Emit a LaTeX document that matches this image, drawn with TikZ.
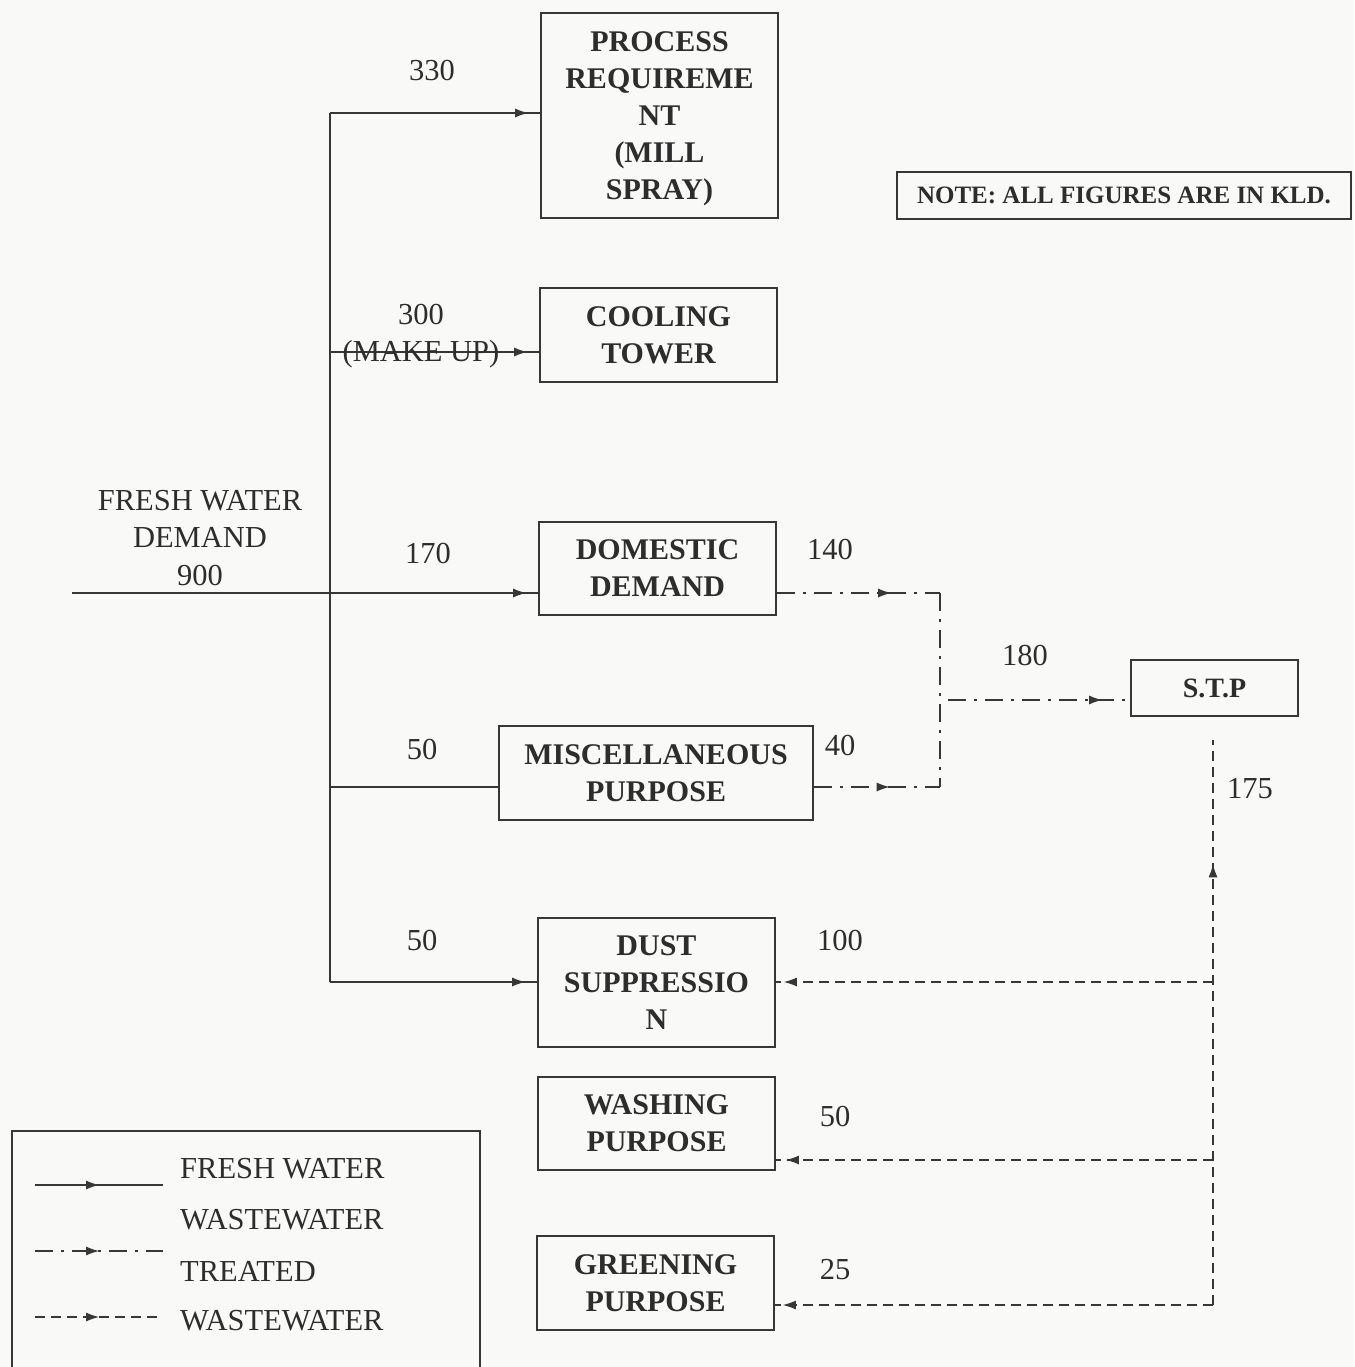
\documentclass[tikz,border=0pt]{standalone}
\usepackage{fontspec}
\setmainfont{Liberation Serif}
\usetikzlibrary{arrows.meta,decorations.markings}
\definecolor{ink}{RGB}{45,45,45}
\definecolor{linec}{RGB}{55,55,55}
\definecolor{bgc}{RGB}{249,249,248}
\tikzset{
  box/.style={draw=linec, line width=1.8pt, rectangle, inner sep=0pt, align=center, text=ink,
    text depth=-8pt, font=\fontsize{30}{37}\selectfont\bfseries},
  lbl/.style={text=ink, inner sep=0pt, font=\fontsize{30.5}{37.5}\selectfont, align=center},
  midarrow/.style={postaction={decorate, decoration={markings,
     mark=at position #1 with {\arrow[line width=1pt]{Latex[length=13pt,width=9pt]}}}}},
  fresh/.style={draw=linec, line width=2.2pt},
  waste/.style={draw=linec, line width=2.2pt, dash pattern=on 18pt off 8pt on 3pt off 8pt},
  treated/.style={draw=linec, line width=2.2pt, dash pattern=on 10pt off 6pt},
}
\begin{document}
\begin{tikzpicture}[x=1pt,y=-1pt]
\fill[bgc] (0,0) rectangle (1354,1367);
\useasboundingbox (0,0) rectangle (1354,1367);

% boxes
\node[box, text depth=-12pt, minimum width=237pt, minimum height=205pt] (proc) at (659.5,115.5) {PROCESS\\REQUIREME\\NT\\(MILL\\SPRAY)};
\node[box, minimum width=237pt, minimum height=94pt] (cool) at (658.5,335) {COOLING\\TOWER};
\node[box, minimum width=237pt, minimum height=93pt] (dom) at (657.5,568.5) {DOMESTIC\\DEMAND};
\node[box, minimum width=314pt, minimum height=94pt] (misc) at (656,773) {MISCELLANEOUS\\PURPOSE};
\node[box, minimum width=237pt, minimum height=129pt] (dust) at (656.5,982.5) {DUST\\SUPPRESSIO\\N};
\node[box, minimum width=237pt, minimum height=93pt] (wash) at (656.5,1123.5) {WASHING\\PURPOSE};
\node[box, minimum width=237pt, minimum height=94pt] (green) at (655.5,1283) {GREENING\\PURPOSE};
\node[box, minimum width=167pt, minimum height=56pt, font=\fontsize{28}{34}\selectfont\bfseries] (stp) at (1214.5,688) {S.T.P};
\node[box, minimum width=454pt, minimum height=47pt, text depth=-3pt, font=\fontsize{25}{30}\selectfont\bfseries] (note) at (1124,195.5) {NOTE: ALL FIGURES ARE IN KLD.};

% coordinates
\coordinate (src) at (72,593);
\coordinate (trtop) at (330,113);
\coordinate (trcool) at (330,352);
\coordinate (trmisc) at (330,787);
\coordinate (trbot) at (330,982);
\coordinate (ww1) at (940,593);
\coordinate (ww2) at (940,787);
\coordinate (wj) at (948,700);
\coordinate (t0) at (1213,740);
\coordinate (t1) at (1213,982);
\coordinate (t2) at (1213,1160);
\coordinate (t3) at (1213,1305);

% fresh water
\draw[fresh, midarrow=-12pt] (src) -- (src -| dom.west);
\draw[fresh] (trtop) -- (trbot);
\draw[fresh, midarrow=-12pt] (trtop) -- (trtop -| proc.west);
\draw[fresh, midarrow=-12pt] (trcool) -- (trcool -| cool.west);
\draw[fresh] (trmisc) -- (trmisc -| misc.west);
\draw[fresh, midarrow=-12pt] (trbot) -- (trbot -| dust.west);

% wastewater
\draw[waste, midarrow=0.7] (ww1 -| dom.east) -- (ww1);
\draw[waste] (ww1) -- (ww2);
\draw[waste, midarrow=0.6] (ww2 -| misc.east) -- (ww2);
\draw[waste, midarrow=-28pt] (wj) -- (wj -| stp.west);

% treated wastewater
\draw[treated, midarrow=0.78] (t3) -- (t0);
\draw[treated, midarrow=-8pt] (t1) -- (t1 -| dust.east);
\draw[treated, midarrow=-10pt] (t2) -- (t2 -| wash.east);
\draw[treated, midarrow=-8pt] (t3) -- (t3 -| green.east);

% labels
\node[lbl] (lfw) at (200,538) {FRESH WATER\\DEMAND\\900};
\node[lbl] (l330) at (432,71) {330};
\node[lbl] (l300) at (421,336) {300\\(MAKE UP)};
\node[lbl] (l170) at (428,554) {170};
\node[lbl] (l50a) at (422,749) {50};
\node[lbl] (l50b) at (422,940) {50};
\node[lbl] (l140) at (830,550) {140};
\node[lbl] (l40) at (840,745) {40};
\node[lbl] (l180) at (1025,656) {180};
\node[lbl] (l175) at (1250,789) {175};
\node[lbl] (l100) at (840,940) {100};
\node[lbl] (l50c) at (835,1116) {50};
\node[lbl] (l25) at (835,1270) {25};

% legend
\draw[linec, line width=1.8pt] (12,1131) rectangle (480,1380);
\coordinate (lg1a) at (35,1185); \coordinate (lg1b) at (163,1185);
\coordinate (lg2a) at (35,1251); \coordinate (lg2b) at (163,1251);
\coordinate (lg3a) at (35,1317); \coordinate (lg3b) at (163,1317);
\draw[fresh, midarrow=0.5] (lg1a) -- (lg1b);
\draw[waste, midarrow=0.5] (lg2a) -- (lg2b);
\draw[treated, midarrow=0.5] (lg3a) -- (lg3b);
\node[lbl, anchor=west] (lt1) at (180,1169) {FRESH WATER};
\node[lbl, anchor=west] (lt2) at (180,1220) {WASTEWATER};
\node[lbl, anchor=west] (lt3) at (180,1271) {TREATED};
\node[lbl, anchor=west] (lt4) at (180,1321) {WASTEWATER};
\end{tikzpicture}
\end{document}
